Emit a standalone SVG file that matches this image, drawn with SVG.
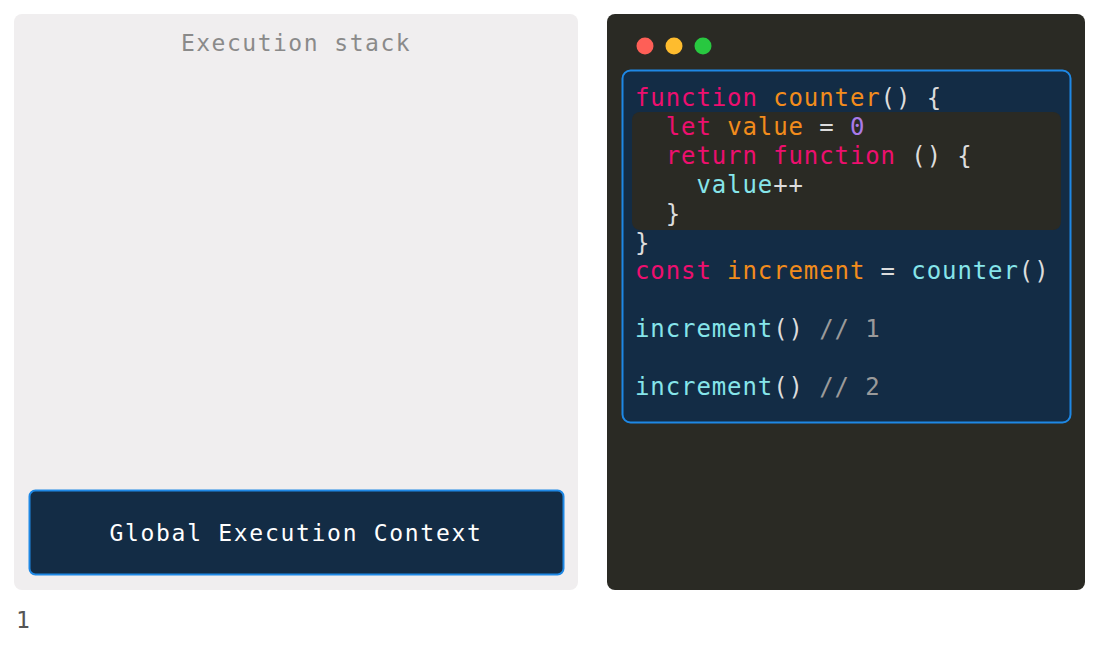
<svg xmlns="http://www.w3.org/2000/svg" width="1100" height="648" viewBox="0 0 1100 648">
<style>
.mono{font-family:"DejaVu Sans Mono","Liberation Mono",monospace;}
.code{font-size:24px;letter-spacing:0.9px;}
.k{fill:#ed0f6f}.o{fill:#f28c1c}.w{fill:#dcdcdc}.p{fill:#a97ae8}.c{fill:#86e5ea}.g{fill:#9a9a9a}
</style>
<rect width="1100" height="648" fill="#ffffff"/>
<g id="stack-panel">
<rect x="14" y="14" width="564" height="576" rx="8" fill="#f0eeef"/>
<text x="296" y="51" class="mono" font-size="23" letter-spacing="1.5" fill="#8a8a8a" text-anchor="middle">Execution stack</text>
</g>
<g id="global-context">
<rect x="29.5" y="490.5" width="534" height="84" rx="6" fill="#132c45" stroke="#1e88e5" stroke-width="2"/>
<text x="296" y="541" class="mono" font-size="23" letter-spacing="1.7" fill="#ffffff" text-anchor="middle">Global Execution Context</text>
</g>
<g id="code-window">
<rect x="607" y="14" width="478" height="576" rx="8" fill="#2a2a24"/>
<circle cx="645" cy="46" r="8.5" fill="#fe5f57"/>
<circle cx="674" cy="46" r="8.5" fill="#febc2e"/>
<circle cx="703" cy="46" r="8.5" fill="#28c840"/>
<rect x="622.5" y="70.5" width="448" height="352" rx="8" fill="#132c45" stroke="#1e88e5" stroke-width="2"/>
<rect x="632" y="112" width="429" height="118" rx="8" fill="#2a2a24"/>
<text class="mono code" xml:space="preserve">
<tspan x="635" y="106"><tspan class="k">function</tspan><tspan class="w"> </tspan><tspan class="o">counter</tspan><tspan class="w">() {</tspan></tspan>
<tspan x="635" y="135"><tspan class="w">  </tspan><tspan class="k">let</tspan><tspan class="w"> </tspan><tspan class="o">value</tspan><tspan class="w"> = </tspan><tspan class="p">0</tspan></tspan>
<tspan x="635" y="164"><tspan class="w">  </tspan><tspan class="k">return function</tspan><tspan class="w"> () {</tspan></tspan>
<tspan x="635" y="193"><tspan class="w">    </tspan><tspan class="c">value</tspan><tspan class="w">++</tspan></tspan>
<tspan x="635" y="222"><tspan class="w">  }</tspan></tspan>
<tspan x="635" y="251" class="w">}</tspan>
<tspan x="635" y="279"><tspan class="k">const</tspan><tspan class="w"> </tspan><tspan class="o">increment</tspan><tspan class="w"> = </tspan><tspan class="c">counter</tspan><tspan class="w">()</tspan></tspan>
<tspan x="635" y="337"><tspan class="c">increment</tspan><tspan class="w">()</tspan><tspan class="g"> // 1</tspan></tspan>
<tspan x="635" y="395"><tspan class="c">increment</tspan><tspan class="w">()</tspan><tspan class="g"> // 2</tspan></tspan>
</text>
</g>
<text x="16" y="628" class="mono" font-size="23" fill="#555555">1</text>
</svg>
